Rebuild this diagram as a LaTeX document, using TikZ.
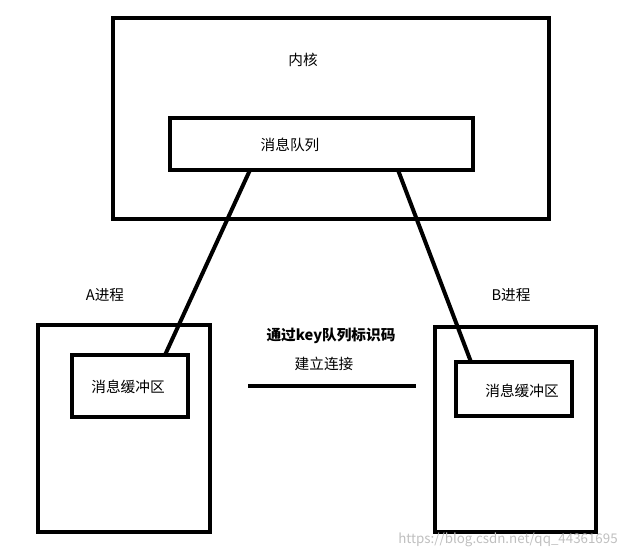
\documentclass[tikz,border=0pt]{standalone}
\usepackage{fontspec}
\setmainfont{Noto Sans CJK SC}
\usepackage{tikz}
\usetikzlibrary{positioning,calc}

\begin{document}
\begin{tikzpicture}[
        x=0.75pt, y=-0.75pt,
        every node/.style={font=\fontsize{11}{13}\selectfont},
        box/.style={draw, line width=3pt, line join=miter},
        link/.style={line width=3pt}
    ]
        \useasboundingbox (0,0) rectangle (640,559);

        % kernel
        \draw[box] (113,18) rectangle (549,219);
        \node (kernel) at (303,60) {内核};
        \draw[box] (170,118) rectangle (473,170);
        \node (queue) at (290,145) {消息队列};
        \coordinate (qa) at (250,170);
        \coordinate (qb) at (398,170);

        % process A
        \draw[box] (38,325) rectangle (210,532);
        \node (procA) at (105,295) {A进程};
        \draw[box] (72,355) rectangle (188,417);
        \node (bufA) at (128,387) {消息缓冲区};
        \coordinate (ba) at (165,355);

        % process B
        \draw[box] (435,327) rectangle (596,532);
        \node (procB) at (511,295) {B进程};
        \draw[box] (456,362) rectangle (572,416);
        \node (bufB) at (522,391) {消息缓冲区};
        \coordinate (bb) at (471,362);

        \draw[link] (qa) -- (ba);
        \draw[link] (qb) -- (bb);

        % connection
        \node[font=\fontsize{11}{13}\selectfont\bfseries] (key) at (331,336) {通过key队列标识码};
        \node (conn) at (324,364) {建立连接};
        \coordinate (cl) at (248,386);
        \coordinate (cr) at (416,386);
        \draw[link] (cl) -- (cr);

        \node[text=gray!50, font=\fontsize{10}{12}\selectfont] (mark) at (508,540) {https://blog.csdn.net/qq\_44361695};
    \end{tikzpicture}
\end{document}
